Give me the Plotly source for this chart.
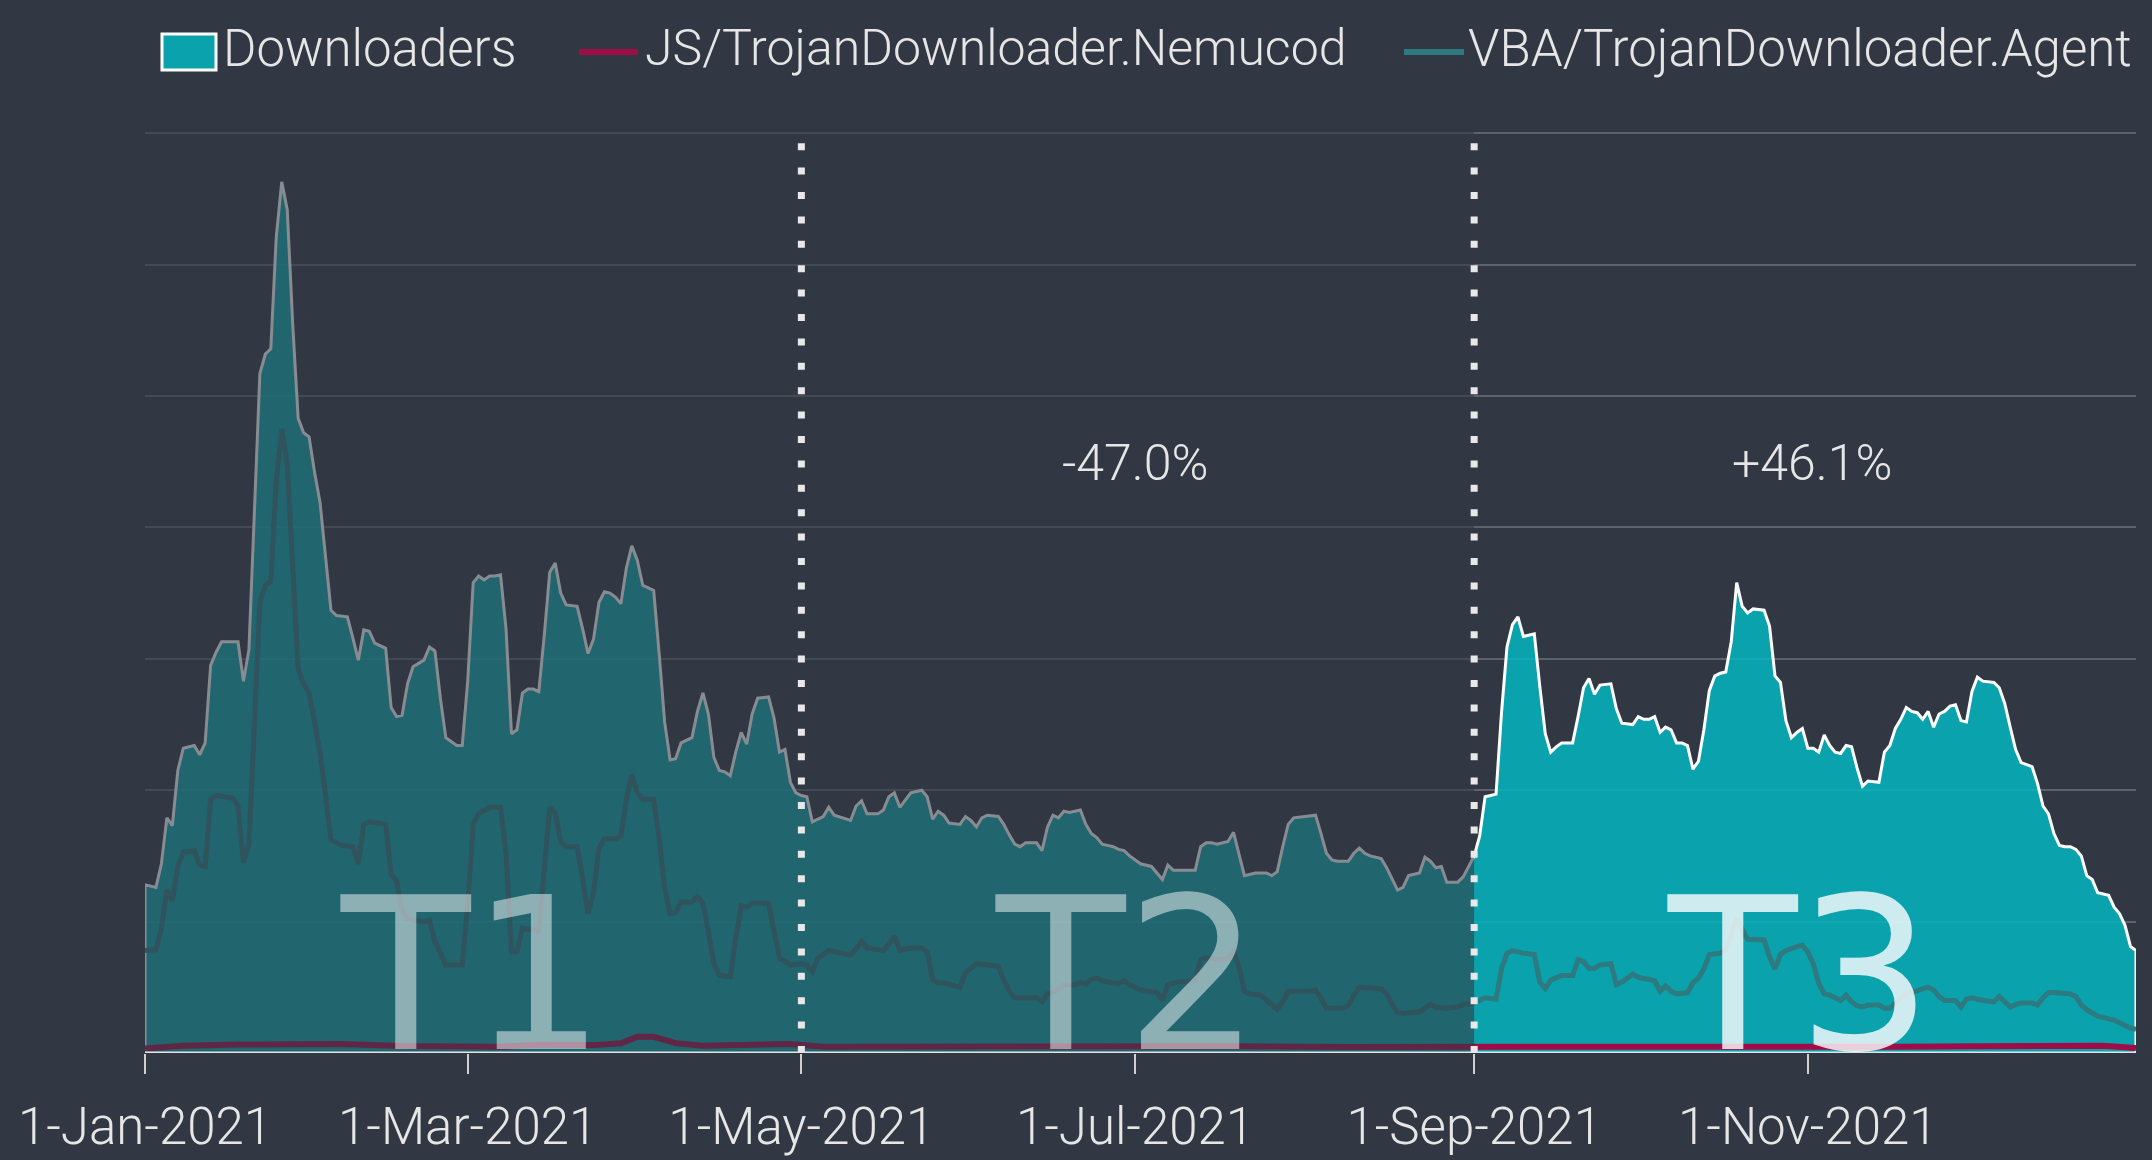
import pandas as pd
import plotly.graph_objects as go

# ---------------- data (day offset from 1-Jan-2021, value in arbitrary units) ----------------
YEAR_START = "2021-01-01"
YEAR_END = "2021-12-31"

series_names = ["Downloaders", "JS/TrojanDownloader.Nemucod", "VBA/TrojanDownloader.Agent"]

downloaders = [
    (0, 128), (2, 126), (3, 144), (4, 179), (5, 173), (6, 215), (7, 232), (9, 234), (10, 227), (11, 236),
    (12, 295), (13, 305), (14, 313), (17, 313), (18, 283), (19, 307), (20, 413), (21, 517), (22, 532), (23, 536),
    (24, 621), (25, 663), (26, 642), (27, 555), (28, 483), (29, 472), (30, 469), (31, 442), (32, 419), (33, 376),
    (34, 337), (35, 333), (37, 332), (38, 316), (39, 299), (40, 322), (41, 321), (42, 312), (44, 308), (45, 263),
    (46, 256), (47, 257), (48, 281), (49, 294), (51, 299), (52, 309), (53, 306), (54, 270), (55, 240), (57, 234),
    (58, 234), (59, 283), (60, 358), (61, 363), (62, 360), (63, 363), (64, 363), (65, 364), (66, 323), (67, 243),
    (68, 246), (69, 274), (70, 277), (71, 277), (72, 275), (73, 318), (74, 366), (75, 373), (76, 350), (77, 341),
    (79, 340), (80, 323), (81, 304), (82, 315), (83, 343), (84, 351), (85, 350), (86, 347), (87, 342), (88, 369),
    (89, 386), (90, 375), (91, 356), (92, 354), (93, 352), (94, 304), (95, 252), (96, 223), (97, 224), (98, 236),
    (99, 238), (100, 240), (101, 260), (102, 274), (103, 258), (104, 225), (105, 215), (106, 214), (107, 211),
    (108, 229), (109, 244), (110, 235), (111, 258), (112, 270), (114, 271), (115, 255), (116, 229), (117, 231),
    (118, 206), (119, 198), (120, 196), (121, 195), (122, 176), (124, 180), (125, 187), (126, 181), (129, 177),
    (130, 188), (131, 192), (132, 182), (134, 182), (135, 185), (136, 195), (137, 198), (138, 187), (139, 193),
    (140, 198), (142, 200), (143, 195), (144, 178), (145, 184), (146, 181), (147, 175), (149, 174), (150, 180),
    (151, 177), (152, 172), (153, 179), (154, 181), (156, 180), (157, 174), (158, 166), (159, 159), (160, 157),
    (161, 160), (163, 160), (164, 154), (165, 172), (166, 181), (167, 179), (168, 184), (169, 183), (171, 185),
    (172, 174), (173, 167), (174, 164), (175, 159), (176, 158), (177, 157), (178, 155), (179, 154), (180, 150),
    (182, 144), (184, 142), (185, 137), (186, 132), (187, 143), (188, 139), (192, 139), (193, 157), (194, 160),
    (195, 160), (196, 159), (198, 161), (199, 168), (200, 152), (201, 135), (203, 137), (205, 137), (206, 135),
    (207, 138), (208, 157), (209, 174), (210, 179), (212, 180), (214, 181), (215, 167), (216, 152), (217, 147),
    (218, 146), (220, 146), (221, 152), (222, 156), (223, 152), (224, 150), (226, 148), (227, 141), (228, 133),
    (229, 124), (230, 126), (231, 135), (233, 137), (234, 149), (235, 146), (236, 141), (237, 142), (238, 130),
    (240, 130), (241, 134), (242, 142), (243, 150), (244, 165), (245, 195), (246, 196), (247, 197), (248, 259),
    (249, 309), (250, 326), (251, 332), (252, 317), (254, 319), (255, 279), (256, 243), (257, 229), (258, 233),
    (259, 236), (261, 236), (262, 256), (263, 278), (264, 285), (265, 273), (266, 280), (268, 281), (269, 262),
    (270, 251), (272, 250), (273, 256), (274, 254), (275, 254), (276, 256), (277, 244), (278, 248), (279, 246),
    (280, 236), (281, 236), (282, 234), (283, 216), (284, 222), (285, 246), (286, 276), (287, 287), (288, 289),
    (289, 290), (290, 313), (291, 358), (292, 340), (293, 335), (294, 338), (296, 337), (297, 325), (298, 287),
    (299, 282), (300, 253), (301, 240), (302, 244), (303, 247), (304, 232), (305, 232), (306, 229), (307, 242),
    (308, 234), (309, 229), (310, 228), (311, 234), (312, 233), (313, 217), (314, 203), (315, 207), (317, 206),
    (318, 229), (319, 234), (320, 247), (321, 254), (322, 263), (323, 260), (324, 259), (325, 254), (326, 260),
    (327, 248), (328, 258), (329, 260), (330, 264), (331, 265), (332, 253), (333, 252), (334, 275), (335, 286),
    (336, 283), (338, 282), (339, 278), (340, 266), (341, 248), (342, 231), (343, 221), (345, 218), (346, 205),
    (347, 188), (348, 182), (349, 167), (350, 158), (351, 157), (352, 157), (353, 155), (354, 150), (355, 135),
    (356, 132), (357, 122), (359, 120), (360, 111), (361, 106), (362, 97), (363, 81), (364, 78),
]

vba_agent = [
    (0, 78), (2, 78.5), (3, 95), (4, 124), (5, 116), (6, 142), (7, 153), (9, 154), (10, 143), (11, 142),
    (12, 193), (13, 196), (16, 194), (17, 188), (18, 145), (19, 159), (20, 250), (21, 343), (22, 356), (23, 359),
    (24, 435), (25, 475), (26, 449), (27, 369), (28, 292), (29, 281), (30, 274), (31, 252), (32, 228), (33, 197),
    (34, 162), (36, 158), (38, 157), (39, 144), (40, 174), (41, 176), (44, 174), (45, 136), (46, 131), (47, 109),
    (48, 102), (51, 100), (52, 101), (53, 85), (55, 67), (58, 67), (59, 113), (60, 174), (61, 182), (63, 187),
    (65, 187), (66, 152), (67, 77), (68, 77), (69, 95), (72, 93), (73, 136), (74, 187), (75, 183), (76, 161),
    (77, 157), (79, 157), (80, 133), (81, 106), (82, 122), (83, 156), (84, 163), (86, 163), (87, 165), (88, 193),
    (89, 212), (90, 198), (91, 193), (93, 193), (94, 163), (95, 125), (96, 106), (97, 107), (98, 115), (100, 115),
    (101, 119), (102, 114), (103, 92), (104, 68), (105, 59), (107, 58), (108, 87), (109, 112), (110, 111),
    (111, 114), (114, 114), (115, 95), (116, 72), (117, 70), (118, 67), (120, 68), (121, 67), (122, 62), (123, 72),
    (125, 78), (128, 76), (129, 74.5), (130, 79), (131, 85), (132, 80), (135, 78), (136, 83), (137, 89), (138, 78),
    (140, 80), (142, 80), (143, 77), (144, 55.5), (145, 53.5), (146, 53.5), (147, 52), (149, 50), (150, 61),
    (152, 68), (154, 67), (156, 66), (157, 55.5), (158, 47), (159, 42), (163, 42), (164, 39), (165, 45), (167, 48),
    (168, 52), (170, 52), (171, 53.5), (172, 52.5), (173, 56), (174, 57), (175, 55), (177, 53.5), (178, 53),
    (179, 55), (180, 52), (182, 48), (185, 46), (186, 40), (187, 52), (189, 54), (192, 55), (193, 71), (194, 72.5),
    (196, 71), (198, 72), (199, 77), (200, 66), (201, 47), (202, 45), (204, 44), (205, 40), (207, 33), (208, 39),
    (209, 47), (213, 47), (214, 48), (215, 41.5), (216, 34), (219, 34), (220, 36), (221, 44), (222, 50), (226, 49),
    (227, 45), (228, 37), (229, 31), (230, 30), (233, 31.4), (234, 34), (235, 37), (236, 35), (238, 34), (240, 35),
    (241, 37), (243, 38), (244, 40), (245, 42), (247, 41), (248, 64), (249, 76), (250, 78), (252, 76), (254, 75),
    (255, 54), (256, 49), (257, 55.5), (258, 57), (259, 59), (261, 59), (262, 71), (263, 69.5), (264, 64.4),
    (265, 64.4), (266, 67), (268, 68), (269, 52), (270, 54), (271, 57), (272, 60), (273, 57.6), (275, 56), (276, 55),
    (277, 47), (278, 51), (279, 47), (280, 45), (282, 46), (283, 53.5), (284, 57), (285, 64), (286, 75), (288, 76),
    (289, 78), (290, 90), (291, 102.5), (292, 94), (293, 86.5), (296, 86), (297, 73), (298, 64), (299, 75),
    (300, 78), (301, 80), (302, 81), (303, 82), (304, 77), (305, 68), (306, 53), (307, 45), (308, 44), (309, 42),
    (310, 40), (311, 44), (312, 39), (313, 36), (314, 35), (315, 36.5), (317, 36.5), (318, 34), (319, 34), (320, 38),
    (321, 42), (322, 45), (323, 46), (324, 48), (325, 49), (326, 50), (327, 48), (328, 43), (329, 40), (331, 40),
    (332, 35), (333, 41), (334, 42), (336, 40), (338, 39), (339, 43), (340, 39), (341, 35), (342, 37), (343, 38),
    (345, 38), (346, 36.5), (347, 42), (348, 46), (349, 46), (351, 45), (352, 45), (353, 43), (354, 36.5), (355, 33),
    (356, 31), (357, 28), (359, 26), (360, 25), (361, 23), (362, 20.5), (363, 19), (364, 18),
]

nemucod = [
    (0, 3.5), (7, 5.5), (17, 6.5), (36, 6.8), (47, 5.3), (64, 4.7), (72, 6.2), (82, 6), (87, 7.4), (89, 11),
    (90, 12.3), (93, 12.3), (95, 9.5), (97, 7.5), (102, 5.5), (112, 6.8), (118, 6.8), (124, 4.7), (135, 4.8),
    (150, 5.2), (165, 5.4), (180, 5), (200, 5.2), (220, 4.6), (240, 4.5), (260, 5), (280, 4.8), (300, 5.2),
    (320, 4.8), (335, 5.2), (350, 6), (358, 5.5), (364, 3.8),
]

tick_dates = ["2021-01-01", "2021-03-01", "2021-05-01", "2021-07-01", "2021-09-01", "2021-11-01"]
period_edges = ["2021-01-01", "2021-05-01", "2021-09-01", "2021-12-31"]
period_labels = ["T1", "T2", "T3"]
change_labels = ["-47.0%", "+46.1%"]   # change of T2 vs T1, T3 vs T2

# ---------------- helpers ----------------
start = pd.Timestamp(YEAR_START)


def to_xy(pairs):
    xs = [start + pd.Timedelta(days=d) for d, _ in pairs]
    ys = [v for _, v in pairs]
    return xs, ys


BG = "#323843"
FONT = "Roboto"
BIG_FONT = "DejaVu Sans"
TEXT = "#e6e6e6"
TEAL = "#0aa2ad"
NEM_COLOR = "#a00c48"
VBA_COLOR = "#2d7a80"

PLOT_L, PLOT_R, PLOT_T, PLOT_B = 145, 2136, 107, 1053
Y_MAX = 720


def px(x):
    return (x - PLOT_L) / (PLOT_R - PLOT_L)


def py(y):
    return (PLOT_B - y) / (PLOT_B - PLOT_T)


fig = go.Figure()

dl_x, dl_y = to_xy(downloaders)
fig.add_trace(go.Scatter(
    x=[dl_x[0]] + dl_x + [dl_x[-1]], y=[0] + dl_y + [0],
    mode="lines", fill="tozeroy", fillcolor="rgba(4,181,192,0.85)",
    line=dict(color="#ffffff", width=3), name=series_names[0],
    showlegend=False, hoverinfo="skip",
))

nx, ny = to_xy(nemucod)
fig.add_trace(go.Scatter(
    x=nx, y=ny, mode="lines", line=dict(color=NEM_COLOR, width=6),
    name=series_names[1], showlegend=False, hoverinfo="skip",
))

vx, vy = to_xy(vba_agent)
fig.add_trace(go.Scatter(
    x=vx, y=vy, mode="lines", line=dict(color=VBA_COLOR, width=5),
    name=series_names[2], showlegend=False, hoverinfo="skip",
))

shapes = []
# dimming overlay on T1 + T2
shapes.append(dict(type="rect", xref="x", yref="y", x0=period_edges[0], x1=period_edges[2],
                   y0=0, y1=Y_MAX, fillcolor="rgba(50,56,67,0.58)", line=dict(width=0), layer="above"))
# dotted separators
for d in period_edges[1:3]:
    shapes.append(dict(type="line", xref="x", yref="y", x0=d, x1=d, y0=0, y1=704,
                       line=dict(color="#e8e8e8", width=7, dash="7px,17.4px"), layer="above"))
# x axis baseline
shapes.append(dict(type="line", xref="x", yref="y", x0=YEAR_START, x1=YEAR_END, y0=0, y1=0,
                   line=dict(color="#e4e4e4", width=3), layer="above"))

# manual legend
shapes.append(dict(type="rect", xref="paper", yref="paper", x0=px(162), x1=px(216), y0=py(70), y1=py(34),
                   fillcolor=TEAL, line=dict(color="#ffffff", width=3), layer="above"))
shapes.append(dict(type="line", xref="paper", yref="paper", x0=px(579), x1=px(638), y0=py(52), y1=py(52),
                   line=dict(color=NEM_COLOR, width=6), layer="above"))
shapes.append(dict(type="line", xref="paper", yref="paper", x0=px(1404), x1=px(1464), y0=py(52), y1=py(52),
                   line=dict(color=VBA_COLOR, width=6), layer="above"))

annotations = []
for name, xpix, fs in zip(series_names, [221, 643, 1466], [51, 50, 51]):
    annotations.append(dict(xref="paper", yref="paper", x=px(xpix), y=py(48), text=name,
                            showarrow=False, xanchor="left", yanchor="middle",
                            font=dict(family=FONT, size=fs, color=TEXT, weight=300)))

edges = [pd.Timestamp(e) for e in period_edges]
mids = [edges[i] + (edges[i + 1] - edges[i]) / 2 for i in range(3)]

label_shift_days = [-0.2, -1.8, -1.1]
for i, lab in enumerate(period_labels):
    col = "rgba(255,255,255,0.49)" if i < 2 else "rgba(255,255,255,0.80)"
    annotations.append(dict(xref="x", yref="y", x=mids[i] + pd.Timedelta(days=label_shift_days[i]),
                            y=59, text=lab, showarrow=False,
                            xanchor="center", yanchor="middle",
                            font=dict(family=BIG_FONT, size=212, color=col)))

change_shift_days = [-0.5, 1.3]
for i, lab in enumerate(change_labels):
    annotations.append(dict(xref="x", yref="y", x=mids[i + 1] + pd.Timedelta(days=change_shift_days[i]),
                            y=449, text=lab, showarrow=False,
                            xanchor="center", yanchor="middle",
                            font=dict(family=FONT, size=50, color=TEXT, weight=300)))

fig.update_layout(
    width=2152, height=1160,
    margin=dict(l=PLOT_L, r=2152 - PLOT_R, t=PLOT_T, b=1160 - PLOT_B, pad=0, autoexpand=False),
    paper_bgcolor=BG, plot_bgcolor=BG,
    showlegend=False,
    shapes=shapes, annotations=annotations,
    xaxis=dict(type="date", range=[YEAR_START, YEAR_END], tickvals=tick_dates,
               tickformat="%-d-%b-%Y", ticks="outside", ticklen=20, tickwidth=2, tickcolor="#d0d0d0",
               ticklabelstandoff=9, automargin=False,
               tickfont=dict(family=FONT, size=51, color=TEXT, weight=300),
               showgrid=False, zeroline=False, showline=False, fixedrange=True),
    yaxis=dict(range=[0, Y_MAX], dtick=100, tick0=0, showticklabels=False, ticks="", automargin=False,
               gridcolor="#5c636d", gridwidth=2, zeroline=False, showline=False, fixedrange=True),
)

fig.write_html("out.html", config={"displayModeBar": False},
               post_script="document.body.style.margin='0px';document.body.style.overflow='hidden';")
